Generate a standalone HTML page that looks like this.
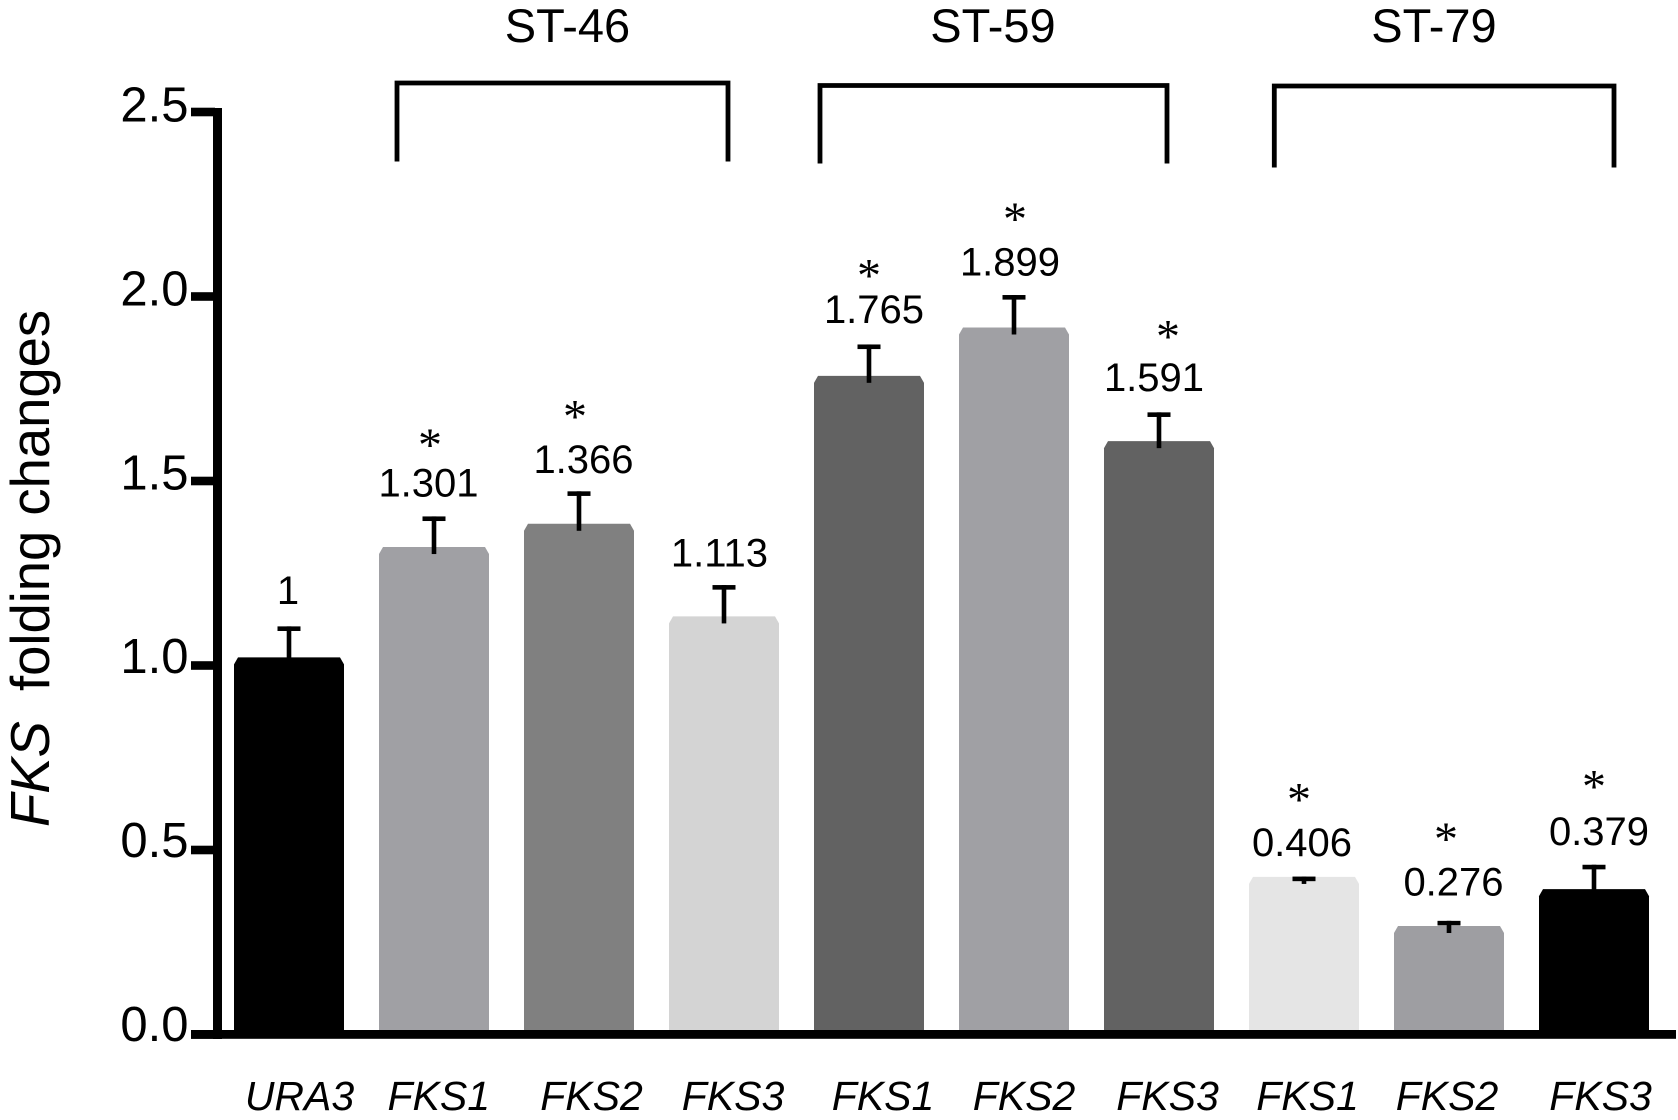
<!DOCTYPE html>
<html lang="en">
<head>
<meta charset="utf-8">
<title>FKS folding changes</title>
<style>
  html, body { margin: 0; padding: 0; background: #fff; }
  svg { display: block; font-family: "Liberation Sans", Arial, sans-serif; fill: #000; }
</style>
</head>
<body>
<svg id="chart" xmlns="http://www.w3.org/2000/svg" width="1678" height="1120" viewBox="0 0 1678 1120">
  <rect x="0" y="0" width="1678" height="1120" fill="#ffffff"/>
  <g id="bars"></g>
  <g id="errors"></g>
  <g id="axes"></g>
  <g id="labels"></g>
  <g id="groups"></g>
  <text transform="translate(49,827) rotate(-90)" font-size="54.4" xml:space="preserve"><tspan font-style="italic">FKS</tspan>  folding changes</text>
</svg>
<script>
// ---- chart data ----
const categories = ['URA3', 'FKS1', 'FKS2', 'FKS3', 'FKS1', 'FKS2', 'FKS3', 'FKS1', 'FKS2', 'FKS3'];
const barValues = [1.022, 1.321, 1.384, 1.133, 1.785, 1.916, 1.608, 0.427, 0.294, 0.394];
const errorTops = [1.106, 1.404, 1.472, 1.218, 1.870, 2.004, 1.686, 0.428, 0.308, 0.460];
const printedValues = ['1', '1.301', '1.366', '1.113', '1.765', '1.899', '1.591', '0.406', '0.276', '0.379'];
const significant = [false, true, true, false, true, true, true, true, true, true];
const tickValues = [0, 0.5, 1, 1.5, 2, 2.5];
const tickLabels = ['0.0', '0.5', '1.0', '1.5', '2.0', '2.5'];
const groupNames = ['ST-46', 'ST-59', 'ST-79'];
const groupFirstBar = [1, 4, 7];

// ---- presentation (offsets relative to the scales, not data) ----
const barFills = ['#000000', '#a0a0a4', '#808080', '#d4d4d4', '#626262', '#a0a0a4', '#626262', '#e5e5e5', '#9e9ea2', '#000000'];
const labelNudgeX = [-1, -5.5, 4.5, -4.5, 5, -4, -5, -2, 4.5, 5];
const labelNudgeY = [-2, 0.5, 2, 2, -1, 1, -1, 0, -5, 0.5];
const starNudgeX = [0, -4, -4, 0, 0, 1, 9, -5, -3, 0];
const starNudgeY = [0, 5, 0, 0, 9, 0, 2, 0, 0, -2];
const categoryNudgeX = [10.5, 4.8, 12.5, 9, 14, 10, 8.5, 3.5, -2, 6.5];
const bracketGeom = [
  { left: -37, right: 294, top: 83, bottom: 161.5 },
  { left: -49, right: 298, top: 85.5, bottom: 163.5 },
  { left: -29.7, right: 310, top: 86, bottom: 167.5 }
];
const bracketLabelX = [133.5, 124, 130];

// ---- scales ----
const xScale = function (i) { return 289 + 145 * i; };
const yScale = function (v) { return 1034.5 - 369 * v; };
const tickLabelY = function (v) { return 1041 - 367.8 * v; };

const BAR_WIDTH = 110;
const AXIS_TOP = 108;
const NS = 'http://www.w3.org/2000/svg';

function make(parent, tag, attrs, text) {
  const el = document.createElementNS(NS, tag);
  for (const k in attrs) el.setAttribute(k, attrs[k]);
  if (text !== undefined) el.textContent = text;
  parent.appendChild(el);
  return el;
}

const gBars = document.getElementById('bars');
const gErrors = document.getElementById('errors');
const gAxes = document.getElementById('axes');
const gLabels = document.getElementById('labels');
const gGroups = document.getElementById('groups');

// bars with chamfered top corners, error bars, value labels, stars, category labels
categories.forEach(function (cat, i) {
  const cx = xScale(i);
  const left = cx - BAR_WIDTH / 2;
  const right = cx + BAR_WIDTH / 2;
  const top = yScale(barValues[i]);
  const base = yScale(0);

  const bar = make(gBars, 'path', {
    d: 'M' + left + ' ' + base + 'L' + left + ' ' + (top + 7) + 'L' + (left + 4) + ' ' + top +
       'L' + (right - 4) + ' ' + top + 'L' + right + ' ' + (top + 7) + 'L' + right + ' ' + base + 'Z',
    fill: barFills[i]
  });
  
  

  const capY = yScale(errorTops[i]);
  const stem = make(gErrors, 'rect', { x: cx - 2.3, y: capY, width: 4.6, height: Math.max(top + 7 - capY, 6), fill: '#000' });
  
  
  const cap = make(gErrors, 'rect', { x: cx - 11.5, y: capY, width: 23, height: 4.6, fill: '#000' });
  
  

  const baseline = capY - 20.5 + labelNudgeY[i];
  const value = make(gLabels, 'text', { x: cx + labelNudgeX[i], y: baseline, 'text-anchor': 'middle', 'font-size': 40 }, printedValues[i]);
  
  

  if (significant[i]) {
    const star = make(gLabels, 'text', {
      x: cx + starNudgeX[i], y: baseline - 40.5 + starNudgeY[i], 'text-anchor': 'middle', 'font-size': 48,
      style: 'font-family:"Liberation Serif",serif'
    }, '*');
    
    
  }

  const catLabel = make(gAxes, 'text', { x: cx + categoryNudgeX[i], y: 1110, 'text-anchor': 'middle', 'font-size': 41, 'font-style': 'italic' }, cat);
  
  
});

// axes
const spine = make(gAxes, 'rect', { x: 213, y: AXIS_TOP, width: 9, height: yScale(0) + 4.5 - AXIS_TOP, fill: '#000' });


const xLine = make(gAxes, 'rect', { x: 191, y: yScale(0) - 4.5, width: 1485, height: 8.8, fill: '#000' });



tickValues.forEach(function (v, i) {
  const tick = make(gAxes, 'rect', { x: 191, y: yScale(v) - 4.3, width: 24, height: 8.6, fill: '#000' });
  
  
  const label = make(gAxes, 'text', { x: 188.5, y: tickLabelY(v), 'text-anchor': 'end', 'font-size': 49 }, tickLabels[i]);
  
  
});

// strain group brackets and titles
groupNames.forEach(function (name, i) {
  const g = bracketGeom[i];
  const anchor = xScale(groupFirstBar[i]);
  const bracket = make(gGroups, 'path', {
    d: 'M' + (anchor + g.left) + ' ' + g.bottom + 'L' + (anchor + g.left) + ' ' + g.top +
       'L' + (anchor + g.right) + ' ' + g.top + 'L' + (anchor + g.right) + ' ' + g.bottom,
    fill: 'none', stroke: '#000', 'stroke-width': 4.8, 'stroke-linecap': 'butt', 'stroke-linejoin': 'miter'
  });
  
  
  const title = make(gGroups, 'text', { x: anchor + bracketLabelX[i], y: 42, 'text-anchor': 'middle', 'font-size': 47 }, name);
  
  
});
</script>
</body>
</html>
